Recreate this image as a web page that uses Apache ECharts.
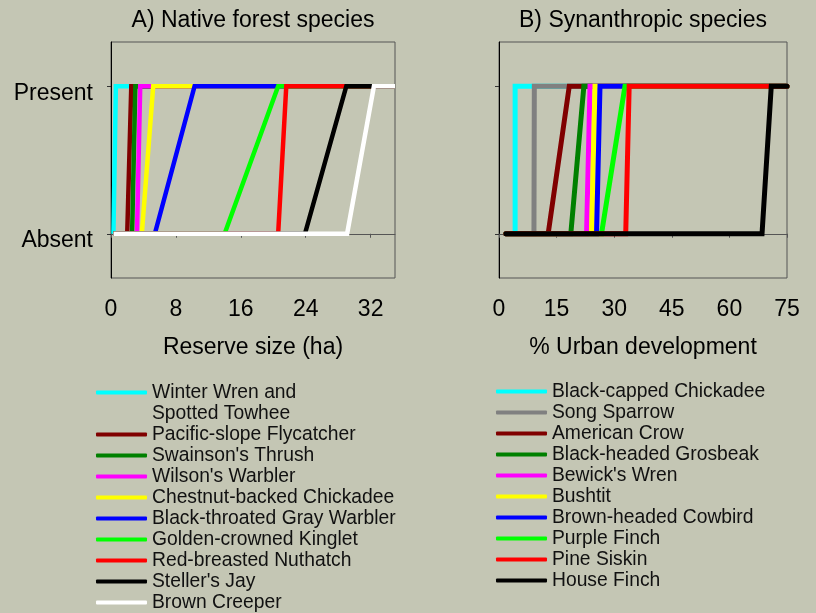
<!DOCTYPE html>
<html>
<head>
<meta charset="utf-8">
<script src="https://cdn.jsdelivr.net/npm/echarts@6/dist/echarts.min.js"></script>
<style>
  html, body { margin: 0; padding: 0; background: #c4c6b4; }
  #chart { width: 816px; height: 613px; }
</style>
</head>
<body>
<div id="chart"></div>
<script>
// A) native forest species vs reserve size (ha)
const forestSpecies = [
  "Winter Wren and\nSpotted Towhee",
  "Pacific-slope Flycatcher",
  "Swainson's Thrush",
  "Wilson's Warbler",
  "Chestnut-backed Chickadee",
  "Black-throated Gray Warbler",
  "Golden-crowned Kinglet",
  "Red-breasted Nuthatch",
  "Steller's Jay",
  "Brown Creeper"
];
const forestColors = ["#00ffff", "#800000", "#008000", "#ff00ff", "#ffff00", "#0000ff", "#00ff00", "#ff0000", "#000000", "#ffffff"];
const forestAbsentUntil = [0.5, 2.0, 2.6, 3.2, 3.8, 5.4, 14.0, 20.6, 23.9, 29.1];
const forestPresentFrom = [0.6, 2.5, 3.0, 3.6, 5.2, 10.3, 20.6, 21.6, 29.0, 32.4];
const forestRange = [0.3, 35];
const forestTicks = [0, 8, 16, 24, 32];

// B) synanthropic species vs % urban development
const urbanSpecies = [
  "Black-capped Chickadee",
  "Song Sparrow",
  "American Crow",
  "Black-headed Grosbeak",
  "Bewick's Wren",
  "Bushtit",
  "Brown-headed Cowbird",
  "Purple Finch",
  "Pine Siskin",
  "House Finch"
];
const urbanColors = ["#00ffff", "#808080", "#800000", "#008000", "#ff00ff", "#ffff00", "#0000ff", "#00ff00", "#ff0000", "#000000"];
const urbanAbsentUntil = [4.2, 9.1, 12.8, 18.7, 22.8, 24.1, 25.4, 26.7, 33.0, 68.5];
const urbanPresentFrom = [4.2, 9.2, 18.3, 22.1, 23.7, 25.0, 26.3, 32.8, 33.9, 70.9];
const urbanRange = [1.8, 75];
const urbanTicks = [0, 15, 30, 45, 60, 75];

const stateValues = [0, 1];
const stateLabels = ["Absent", "Present"];

const FONT = "Liberation Sans, Arial, sans-serif";

function buildSeries(names, colors, absentUntil, presentFrom, range, idx, width, cap) {
  return names.map((name, i) => ({
    name: name,
    type: "line",
    xAxisIndex: idx,
    yAxisIndex: idx,
    symbol: "none",
    color: colors[i],
    lineStyle: { color: colors[i], width: width, cap: cap, join: "miter" },
    data: [
      [range[0], stateValues[0]],
      [absentUntil[i], stateValues[0]],
      [presentFrom[i], stateValues[1]],
      [range[1], stateValues[1]]
    ]
  }));
}

function xAxis(idx, max, ticks, name) {
  return {
    gridIndex: idx,
    type: "value",
    min: 0,
    max: max,
    name: name,
    nameLocation: "middle",
    nameGap: 58,
    nameTextStyle: { fontSize: 23, color: "#000", fontFamily: FONT },
    axisLine: { show: true, lineStyle: { color: "#555", width: 1 } },
    axisTick: { show: true, length: 4, customValues: ticks, lineStyle: { color: "#555" } },
    axisLabel: { customValues: ticks, fontSize: 23, color: "#000", fontFamily: FONT, margin: 20 },
    splitLine: { show: false }
  };
}

function yAxis(idx, showLabels) {
  return {
    gridIndex: idx,
    type: "value",
    min: -0.3,
    max: 1.3,
    axisLine: { show: true, lineStyle: { color: "#000", width: 1 } },
    axisTick: { show: true, length: 4, customValues: stateValues, lineStyle: { color: "#333" } },
    axisLabel: {
      show: showLabels,
      customValues: stateValues,
      formatter: (v) => stateLabels[stateValues.indexOf(v)],
      fontSize: 23,
      color: "#000",
      fontFamily: FONT,
      margin: 18,
      verticalAlign: "top",
      lineHeight: 14
    },
    splitLine: { show: false }
  };
}

function legend(names, left, top) {
  return {
    orient: "vertical",
    left: left,
    top: top,
    padding: 0,
    itemGap: 0,
    itemWidth: 51,
    itemHeight: 4,
    icon: "roundRect",
    selectedMode: false,
    textStyle: { fontSize: 19.3, lineHeight: 21, color: "#111", fontFamily: FONT },
    // two-line names: keep the sample line level with the first line
    formatter: (n) => (n.indexOf("\n") >= 0 ? "\n" + n : n),
    data: names
  };
}

const chart = echarts.init(document.getElementById("chart"));
chart.setOption({
  backgroundColor: "#c4c6b4",
  animation: false,
  title: [
    { text: "A) Native forest species", left: 253, top: 9, padding: 0, textAlign: "center",
      textStyle: { fontSize: 23, fontWeight: "normal", color: "#000", fontFamily: FONT } },
    { text: "B) Synanthropic species", left: 643, top: 9, padding: 0, textAlign: "center",
      textStyle: { fontSize: 23, fontWeight: "normal", color: "#000", fontFamily: FONT } }
  ],
  grid: [
    { left: 111, top: 42, width: 284, height: 236, show: true, borderColor: "#555", borderWidth: 1, backgroundColor: "transparent" },
    { left: 499, top: 42, width: 288, height: 236, show: true, borderColor: "#555", borderWidth: 1, backgroundColor: "transparent" }
  ],
  xAxis: [
    xAxis(0, forestRange[1], forestTicks, "Reserve size (ha)"),
    xAxis(1, urbanRange[1], urbanTicks, "% Urban development")
  ],
  yAxis: [yAxis(0, true), yAxis(1, false)],
  legend: [
    legend(forestSpecies, 96, 361),
    legend(urbanSpecies, 496, 381)
  ],
  series: [
    ...buildSeries(forestSpecies, forestColors, forestAbsentUntil, forestPresentFrom, forestRange, 0, 4.5, "butt"),
    ...buildSeries(urbanSpecies, urbanColors, urbanAbsentUntil, urbanPresentFrom, urbanRange, 1, 5, "round")
  ]
});
</script>
</body>
</html>
